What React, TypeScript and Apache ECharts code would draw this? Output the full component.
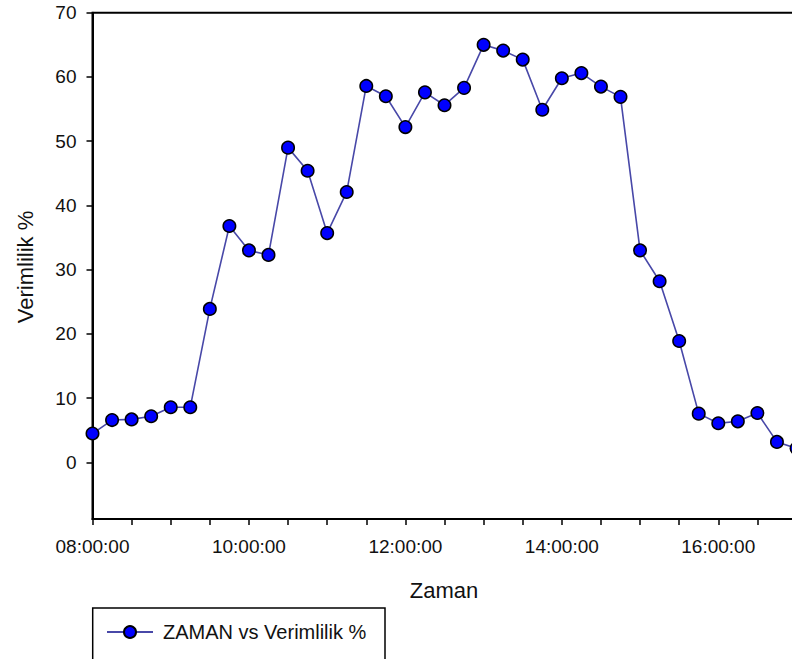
import React, { useEffect, useRef } from "react";
import * as echarts from "echarts";

const times = [
  "08:00", "08:15", "08:30", "08:45", "09:00", "09:15", "09:30", "09:45",
  "10:00", "10:15", "10:30", "10:45", "11:00", "11:15", "11:30", "11:45",
  "12:00", "12:15", "12:30", "12:45", "13:00", "13:15", "13:30", "13:45",
  "14:00", "14:15", "14:30", "14:45", "15:00", "15:15", "15:30", "15:45",
  "16:00", "16:15", "16:30", "16:45", "17:00",
];
const efficiency = [
  4.5, 6.6, 6.7, 7.2, 8.6, 8.6, 23.9, 36.8,
  33.0, 32.3, 49.0, 45.4, 35.7, 42.1, 58.6, 57.0,
  52.2, 57.6, 55.6, 58.3, 65.0, 64.1, 62.7, 54.9,
  59.8, 60.6, 58.5, 56.9, 33.0, 28.2, 18.9, 7.6,
  6.1, 6.4, 7.7, 3.2, 2.2,
];
const yTicks = [0, 10, 20, 30, 40, 50, 60, 70];
const xTickTimes = [
  "08:00", "08:30", "09:00", "09:30", "10:00", "10:30", "11:00", "11:30",
  "12:00", "12:30", "13:00", "13:30", "14:00", "14:30", "15:00", "15:30",
  "16:00", "16:30", "17:00",
];
const xLabelTimes = ["08:00", "10:00", "12:00", "14:00", "16:00"];
const seriesName = "ZAMAN vs Verimlilik %";
const xTitle = "Zaman";
const yTitle = "Verimlilik %";

const toMin = (t: string) => {
  const [h, m] = t.split(":").map(Number);
  return h * 60 + m;
};
const fmt = (v: number) => {
  const h = Math.floor(v / 60);
  const m = Math.round(v % 60);
  return `${String(h).padStart(2, "0")}:${String(m).padStart(2, "0")}:00`;
};

const FONT = '"Liberation Sans", Arial, sans-serif';

export default function App() {
  const ref = useRef<HTMLDivElement>(null);
  useEffect(() => {
    if (!ref.current) return;
    const chart = echarts.init(ref.current, null, { renderer: "svg" });
    const data = times.map((t, i) => [toMin(t), efficiency[i]]);
    chart.setOption({
      animation: false,
      backgroundColor: "#fff",
      grid: {
        left: 92.5,
        top: 12.7,
        width: 704,
        height: 506.3,
        show: true,
        borderColor: "#000",
        borderWidth: 2,
        backgroundColor: "transparent",
      },
      xAxis: {
        type: "value",
        min: toMin("08:00"),
        max: toMin("17:00"),
        axisLine: { show: true, onZero: false, lineStyle: { color: "#000", width: 2 } },
        axisTick: {
          show: true,
          length: 6,
          inside: false,
          customValues: xTickTimes.map(toMin),
          lineStyle: { color: "#000", width: 1.5 },
        },
        axisLabel: {
          customValues: xLabelTimes.map(toMin),
          formatter: (v: number) => fmt(v),
          fontSize: 19,
          fontFamily: FONT,
          color: "#111",
          margin: 18,
        },
        splitLine: { show: false },
      },
      yAxis: {
        type: "value",
        min: -8.8,
        max: 70,
        axisLine: { show: true, onZero: false, lineStyle: { color: "#000", width: 2 } },
        axisTick: {
          show: true,
          length: 6,
          inside: false,
          customValues: yTicks,
          lineStyle: { color: "#000", width: 1.5 },
        },
        axisLabel: {
          customValues: yTicks,
          fontSize: 19,
          fontFamily: FONT,
          color: "#111",
          margin: 16,
        },
        splitLine: { show: false },
      },
      legend: {
        show: true,
        left: 101,
        top: 617,
        itemWidth: 46,
        itemHeight: 15,
        padding: 5,
        textStyle: {
          fontSize: 20,
          fontFamily: FONT,
          color: "#111",
          padding: [0, 0, 0, 5],
        },
        data: [seriesName],
      },
      graphic: [
        {
          type: "rect",
          shape: { x: 92.7, y: 608, width: 292.3, height: 120 },
          style: { fill: "transparent", stroke: "#000", lineWidth: 1.5 },
          silent: true,
        },
        {
          type: "text",
          x: 444,
          y: 590,
          style: {
            text: xTitle,
            font: `22px ${FONT}`,
            fill: "#111",
            textAlign: "center",
            textVerticalAlign: "middle",
          },
        },
        {
          type: "text",
          x: 25,
          y: 267,
          rotation: Math.PI / 2,
          style: {
            text: yTitle,
            font: `22px ${FONT}`,
            fill: "#111",
            textAlign: "center",
            textVerticalAlign: "middle",
          },
        },
      ],
      series: [
        {
          name: seriesName,
          type: "line",
          data,
          symbol: "circle",
          symbolSize: 12.5,
          clip: false,
          lineStyle: { color: "#4848a8", width: 1.6 },
          itemStyle: { color: "#0000ff", borderColor: "#000", borderWidth: 1.5 },
        },
      ],
    });
    return () => chart.dispose();
  }, []);
  return (
    <div
      style={{
        position: "fixed",
        left: 0,
        top: 0,
        width: 792,
        height: 659,
        overflow: "hidden",
        background: "#fff",
      }}
    >
      <div ref={ref} style={{ width: 840, height: 720 }} />
    </div>
  );
}
